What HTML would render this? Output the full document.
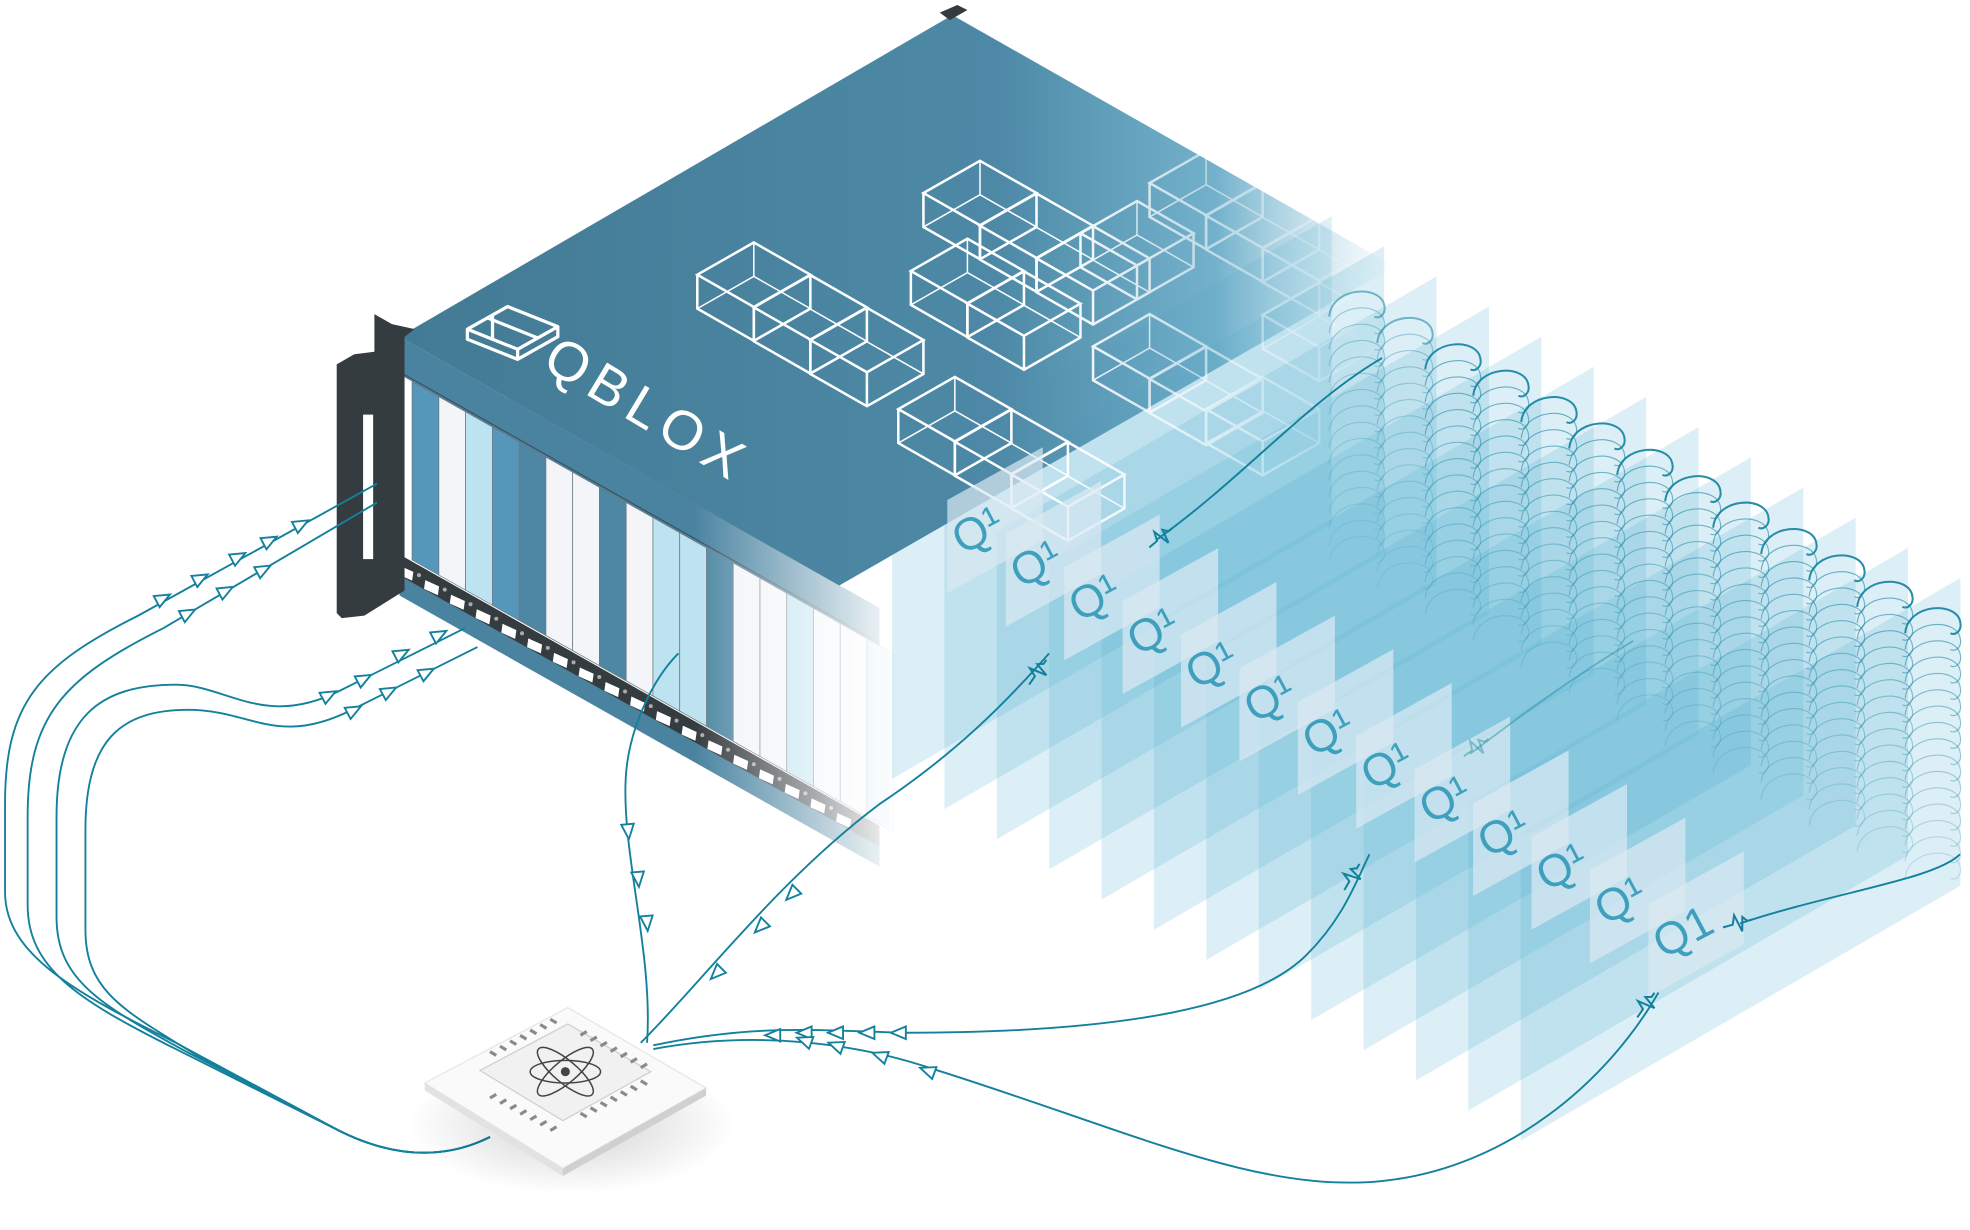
<!DOCTYPE html>
<html><head><meta charset="utf-8"><style>
html,body{margin:0;padding:0;background:#fff;}
svg{display:block;}
</style></head><body>
<svg id="s" width="1970" height="1230" viewBox="0 0 1568 979" preserveAspectRatio="none" xmlns="http://www.w3.org/2000/svg">
<defs>
<linearGradient id="topg" x1="318" y1="0" x2="1110" y2="0" gradientUnits="userSpaceOnUse">
<stop offset="0" stop-color="#437a94"/><stop offset="0.6" stop-color="#4d89a6"/><stop offset="0.82" stop-color="#5aa3c2" stop-opacity="0.85"/><stop offset="1" stop-color="#8cc8dd" stop-opacity="0"/>
</linearGradient>
<linearGradient id="fadeF" x1="300" y1="0" x2="720" y2="0" gradientUnits="userSpaceOnUse">
<stop offset="0.6" stop-color="#fff"/><stop offset="1" stop-color="#000"/>
</linearGradient>
<mask id="mF"><rect x="0" y="0" width="1568" height="979" fill="url(#fadeF)"/></mask>
<linearGradient id="fadeC" x1="700" y1="0" x2="1110" y2="0" gradientUnits="userSpaceOnUse">
<stop offset="0.35" stop-color="#fff"/><stop offset="1" stop-color="#000"/>
</linearGradient>
<mask id="mC"><rect x="0" y="0" width="1568" height="979" fill="url(#fadeC)"/></mask>
<radialGradient id="sh" cx="0.5" cy="0.5" r="0.5"><stop offset="0" stop-color="#000" stop-opacity="0.18"/><stop offset="1" stop-color="#000" stop-opacity="0"/></radialGradient>
</defs>
<g id="panels"></g>
<g id="box"></g>
<g id="cubes" mask="url(#mC)" fill="none" stroke="#fff" stroke-width="2"></g>
<g id="labels"></g>
<g id="arcs" fill="none" stroke="#1b86a3"></g>
<g id="wires" fill="none" stroke="#13819c" stroke-width="1.5"></g>
<g id="chip"></g>
</svg>
<script>
const NS="http://www.w3.org/2000/svg";
function el(p,t,a,txt){const e=document.createElementNS(NS,t);for(const k in a)e.setAttribute(k,a[k]);if(txt)e.textContent=txt;document.getElementById(p).appendChild(e);return e;}
for(let i=0;i<13;i++){
 const x=710+41.7*i, yb=620+24*i, w=350, s=0.58, h=245;
 const pts=[[x,yb],[x+w,yb-w*s],[x+w,yb-w*s-h],[x,yb-h]];
 el("panels","polygon",{points:pts.map(p=>p.join(",")).join(" "),fill:"#4fb0d2","fill-opacity":0.2});
}
const B="box";
el(B,"polygon",{points:"318,268 758,12 1110,212 668,466",fill:"url(#topg)"});
el(B,"polygon",{points:"748,10 762,4 770,8 756,16",fill:"#333b3f"});
const front=el(B,"g",{mask:"url(#mF)"});
function fel(t,a){const e=document.createElementNS(NS,t);for(const k in a)e.setAttribute(k,a[k]);front.appendChild(e);return e;}
const s=0.565;
fel("polygon",{points:`318,268 700,${268+382*s} 700,${298+382*s} 318,298`,fill:"#4a83a0"});
fel("line",{x1:318,y1:296,x2:700,y2:296+382*s,stroke:"#3d5360","stroke-width":1});
const cols=["#5597bb","#f3f5f8","#bde2f0","#5597bb","#4d87a3","#f3f5f8","#f3f5f8","#4d87a3","#f3f5f8","#bde2f0","#bde2f0","#4d87a3","#f3f5f8","#f3f5f8","#bde2f0","#f3f5f8","#f3f5f8","#bde2f0"];
for(let i=0;i<cols.length;i++){
 const x0=328+21.3*i,x1=x0+21.3;
 fel("polygon",{points:`${x0},${298+(x0-318)*s} ${x1},${298+(x1-318)*s} ${x1},${440+(x1-318)*s} ${x0},${440+(x0-318)*s}`,fill:cols[i],stroke:"#6d7a82","stroke-width":0.6});
}
fel("polygon",{points:`298,430 700,${430+402*s} 700,${458+402*s} 298,458`,fill:"#353c40"});
fel("polygon",{points:`318,458 700,${458+382*s} 700,${474+382*s} 318,474`,fill:"#4a83a0"});
for(let i=0;i<18;i++){
 const x=318+20.5*i,y=440+(x-300)*s;
 fel("polygon",{points:`${x},${y} ${x+11},${y+5} ${x+10},${y+12} ${x-1},${y+7}`,fill:"#fff"});
 fel("circle",{cx:x-5,cy:y-4,r:1.6,fill:"#aaa"});
}
el(B,"path",{d:"M298,250 L312,258 L330,262 L322,268 L322,470 L290,490 L272,492 L268,488 L268,290 L282,282 L298,280 Z",fill:"#353c40"});
el(B,"rect",{x:289,y:330,width:8,height:115,fill:"#fff"});
el(B,"g",{}).innerHTML='<g fill="none" stroke="#fff" stroke-width="2.6" stroke-linejoin="round"><polygon points="372,262 404,244 444,260 444,268 412,286 372,270"/><polyline points="372,262 412,278 444,260"/><line x1="412" y1="278" x2="412" y2="286"/><line x1="388" y1="253" x2="428" y2="269"/><line x1="392" y1="251" x2="392" y2="270"/></g><text x="430" y="292" fill="#fff" font-family="Liberation Sans, sans-serif" font-size="44" letter-spacing="6" transform="rotate(31 430 292)">QBLOX</text>';
function cube(x,y,a){
 const p=(P)=>P.join(",");const d=a*0.57,h=a*0.6;
 const t0=[x,y],t1=[x+a,y+d],t2=[x,y+2*d],t3=[x-a,y+d];
 el("cubes","polygon",{points:[t0,t1,t2,t3].map(p).join(" ")});
 el("cubes","polyline",{points:[t3,[t3[0],t3[1]+h],[t2[0],t2[1]+h],[t1[0],t1[1]+h],t1].map(p).join(" ")});
 el("cubes","line",{x1:t2[0],y1:t2[1],x2:t2[0],y2:t2[1]+h});
 el("cubes","polyline",{points:[[t3[0],t3[1]+h],[t0[0],t0[1]+h],[t1[0],t1[1]+h]].map(p).join(" "),"stroke-width":1.2});
 el("cubes","line",{x1:t0[0],y1:t0[1],x2:t0[0],y2:t0[1]+h,"stroke-width":1.2});
}
[[600,193,45],[645,219,45],[690,245,45],[780,128,45],[825,154,45],[870,180,45],[960,120,45],[1005,146,45],[1050,172,45],[770,190,45],[815,216,45],[760,300,45],[805,326,45],[850,352,45],[915,250,45],[960,276,45],[1005,300,45],[1050,225,45],[905,160,45]].forEach(c=>cube(...c));
for(let i=0;i<13;i++){
 const x=762+46.5*i,y=392+26.8*i;
 el("labels","polygon",{points:`${x-8},${y+6} ${x+68},${y-36} ${x+68},${y+38} ${x-8},${y+80}`,fill:"#dbe9f2","fill-opacity":0.7});
 el("labels","text",{x:x+4,y:y+50,fill:"#3ea0bd","font-family":"Liberation Sans, sans-serif","font-size":36,transform:`rotate(-28 ${x+4} ${y+50})`},i==12?"Q1":"Q\u00b9");
}
for(let i=0;i<13;i++){
 const xr=1102+38.2*i, yt=238+21*i;
 const n=16;
 for(let k=0;k<n;k++){
  const y=yt+k*13;
  const op=(k==0?0.95:0.65-k*0.03)*(i<2?0.6:1);
  el("arcs","path",{d:`M${xr-44},${y+14} C${xr-42},${y-10} ${xr-2},${y-12} ${xr},${y+6} C${xr+1},${y+12} ${xr-4},${y+16} ${xr-8},${y+14}`,"stroke-width":k==0?1.6:0.9,"stroke-opacity":op});
 }
}
const T=" L270,900 C320,925 360,920 390,905";
const W=[
"M300,385 L110,490 C30,530 4,560 4,640 L4,710 C4,760 60,790 140,830"+T,
"M300,400 L130,500 C50,540 22,570 22,650 L22,720 C22,770 60,795 140,835"+T,
"M370,500 L270,550 C210,580 180,545 140,545 C80,545 45,570 45,650 L45,730 C45,780 80,800 150,838"+T,
"M380,515 L280,565 C220,595 200,565 150,565 C95,565 68,590 68,660 L68,740 C68,790 100,805 160,842"+T,
"M515,830 C520,760 495,680 498,620 C500,580 520,540 540,520",
"M510,830 C560,780 620,700 700,640 C760,600 800,560 835,520",
"M520,832 C600,815 650,820 720,822 C900,822 1000,800 1040,760 C1070,730 1080,700 1090,680",
"M520,835 C600,820 680,830 740,850 C900,900 1000,950 1100,940 C1200,930 1280,860 1320,790",
"M1100,285 C1040,320 990,380 920,430",
"M1385,735 C1460,710 1540,700 1560,680",
"M1300,510 C1250,540 1210,570 1170,600"
];
W.forEach((d,i)=>el("wires","path",{d,"stroke-opacity":i==10?0.4:1}));
function tri(x,y,ang){el("wires","polygon",{points:"-6,-5 6,0 -6,5",fill:"#fff",transform:`translate(${x},${y}) rotate(${ang})`});}
[[130,476,-28],[160,460,-28],[190,443,-28],[215,430,-28],[240,417,-28],[150,488,-28],[180,470,-28],[210,453,-28],[262,553,-28],[290,540,-28],[320,520,-28],[350,505,-28],[282,565,-28],[310,550,-28],[340,535,-28],
[500,662,85],[508,700,85],[515,735,85],[630,712,135],[605,738,135],[570,775,135],
[715,822,180],[690,822,180],[665,822,180],[640,822,180],[615,824,180],[738,852,200],[700,840,200],[665,832,200],[640,828,200]].forEach(t=>tri(...t));
function zig(x,y,ang,op){el("wires","path",{d:"M-12,0 L-4,0 L-1,-7 L2,7 L5,-4 L8,0 L12,0",transform:`translate(${x},${y}) rotate(${ang})`,"stroke-width":1.6,"stroke-opacity":op||1});}
zig(924,428,-40);zig(826,535,-55);zig(1076,698,-60);zig(1383,735,-15);zig(1310,800,-55);zig(1175,595,-35,0.4);
el("chip","ellipse",{cx:455,cy:895,rx:130,ry:55,fill:"url(#sh)"});
el("chip","polygon",{points:"338,862 452,802 562,866 448,930",fill:"#fafafa",stroke:"#e6e6e6"});
el("chip","polygon",{points:"338,862 448,930 448,936 338,868",fill:"#e2e2e2"});
el("chip","polygon",{points:"448,930 562,866 562,872 448,936",fill:"#d0d0d0"});
el("chip","polygon",{points:"382,852 452,815 518,853 448,892",fill:"#f1f1f1",stroke:"#cfcfcf"});
for(let k=0;k<7;k++){
 el("chip","line",{x1:395+k*8,y1:840-k*4.3,x2:390+k*8,y2:837-k*4.3,stroke:"#8a8a8a","stroke-width":2.5});
 el("chip","line",{x1:395+k*8,y1:873+k*4.3-2,x2:390+k*8,y2:876+k*4.3-2,stroke:"#8a8a8a","stroke-width":2.5});
 el("chip","line",{x1:462+k*8,y1:824+k*4.3,x2:467+k*8,y2:821+k*4.3,stroke:"#8a8a8a","stroke-width":2.5});
 el("chip","line",{x1:462+k*8,y1:886-k*4.3,x2:467+k*8,y2:889-k*4.3,stroke:"#8a8a8a","stroke-width":2.5});
}
const at=el("chip","g",{fill:"none",stroke:"#444","stroke-width":1.2});
at.innerHTML='<ellipse cx="450" cy="853" rx="28" ry="9"/><ellipse cx="450" cy="853" rx="28" ry="9" transform="rotate(40 450 853)"/><ellipse cx="450" cy="853" rx="28" ry="9" transform="rotate(-40 450 853)"/><circle cx="450" cy="853" r="3" fill="#444"/>';
</script>
</body></html>
